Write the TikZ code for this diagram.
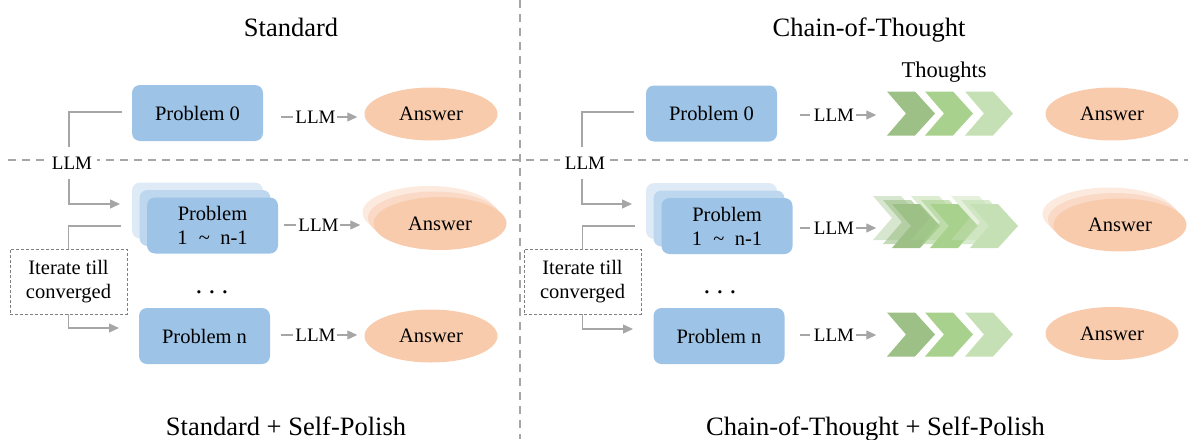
\documentclass[tikz,border=0pt]{standalone}
\usepackage{fontspec}
\setmainfont{Liberation Serif}
\usetikzlibrary{arrows.meta,shapes.geometric,calc}
\definecolor{pb}{HTML}{9DC3E6}
\definecolor{pbb}{HTML}{BDD7EE}
\definecolor{pbc}{HTML}{DEEBF7}
\definecolor{ansc}{HTML}{F8CBAD}
\definecolor{ansb}{HTML}{FADAC6}
\definecolor{ansd}{HTML}{FCEADF}
\definecolor{cga}{HTML}{9CC086}
\definecolor{cgb}{HTML}{A9D18E}
\definecolor{cgc}{HTML}{C5E0B4}
\definecolor{lnc}{HTML}{A6A6A6}
\definecolor{itc}{HTML}{7F7F7F}
\newcommand\myfs{\fontsize{20.5}{24}\selectfont}
\newcommand\mylf{\fontsize{19}{22}\selectfont}
\newcommand\myttl{\fontsize{26.5}{30}\selectfont}
\newcommand\mythf{\fontsize{22.5}{26}\selectfont}
\newcommand\mychev[3]{\fill[#3] (#1,#2-22) -- (#1+28,#2-22) -- (#1+48,#2) -- (#1+28,#2+22) -- (#1,#2+22) -- (#1+19,#2) -- cycle;}
\tikzset{
  pbox/.style={rectangle, rounded corners=8pt, minimum width=131pt, minimum height=56pt, inner sep=0pt, font=\myfs, align=center},
  ans/.style={ellipse, minimum width=133pt, minimum height=53pt, inner sep=0pt, font=\myfs},
  llm/.style={font=\mylf, inner sep=0pt},
  conn/.style={draw=lnc, line width=1.3pt},
  arr/.style={conn, -{Triangle[length=10pt,width=9pt]}},
  dsh/.style={draw=lnc, line width=1.8pt, dash pattern=on 8pt off 6pt},
  itbox/.style={draw=itc, dash pattern=on 3pt off 2pt, line width=0.9pt, fill=white, minimum width=117pt, minimum height=65pt, align=center, font=\myfs, inner sep=0pt},
  lab/.style={fill=white, minimum width=50pt, minimum height=32pt, inner sep=0pt, font=\mylf},
  ttl/.style={font=\myttl, anchor=base, inner sep=0pt},
  dots/.style={font=\fontsize{27}{30}\selectfont, anchor=base, inner sep=0pt}
}
\begin{document}
\begin{tikzpicture}[x=1pt,y=-1pt]
\useasboundingbox (0,0) rectangle (1188,439);
% separators
\draw[dsh] (520,0) -- (520,439);
\draw[dsh] (8,160) -- (1188,160);

% titles
\node[ttl] (t1) at (291,36) {Standard};
\node[ttl] (t2) at (869,36) {Chain-of-Thought};
\node[ttl] (t3) at (286,435) {Standard + Self-Polish};
\node[ttl] (t4) at (875.5,435) {Chain-of-Thought + Self-Polish};
\node[font=\mythf, anchor=base, inner sep=0pt] (th) at (944,77) {Thoughts};

% ===== LEFT =====
\node[pbox, fill=pb] (lp0) at (197.5,113) {Problem 0};
\node[pbox, fill=pbc] (lp1c) at (197.5,210.5) {};
\node[pbox, fill=pbb] (lp1b) at (205,218) {};
\node[pbox, fill=pb] (lp1) at (212.5,225.5) {Problem\\1\hspace{0.55em}\textasciitilde\hspace{0.5em}n-1};
\node[pbox, fill=pb] (lpn) at (204.5,336) {Problem n};

\node[ans, fill=ansc] (la0) at (431,114) {Answer};
\node[ans, fill=ansd] (la1c) at (429,212.5) {};
\node[ans, fill=ansb] (la1b) at (434.5,218) {};
\node[ans, fill=ansc] (la1) at (440,223.5) {Answer};
\node[ans, fill=ansc] (lan) at (431,336) {Answer};

\node[llm] (ll0) at (315.5,117) {LLM};
\node[llm] (ll1) at (318.5,225) {LLM};
\node[llm] (lln) at (315.5,335) {LLM};
\foreach \n in {ll0,ll1,lln}{
  \draw[conn] ($(\n.west)+(-14.5,0)$) -- ($(\n.west)+(-2.5,0)$);
  \draw[arr] ($(\n.east)+(1.5,0)$) -- ($(\n.east)+(21.5,0)$);
}

\coordinate (lt1) at (122,112);
\coordinate (lb1) at (69,112);
\coordinate (lar1) at (120,204);
\coordinate (lt2) at (121,226);
\coordinate (lar2) at (119,328);
\node[lab] (lab1) at (72,163) {LLM};
\draw[conn] (lt1) -- (lb1) -- (lb1 |- lab1.north);
\draw[arr] (lb1 |- lab1.south) |- (lar1);
\node[itbox] (it1) at (68.5,281.5) {Iterate till\\converged};
\draw[conn] (lt2) -| (it1.north);
\draw[arr] (it1.south) |- (lar2);
\node[dots] (ld) at (212,293.5) {.\hspace{6.2pt}.\hspace{6.2pt}.};

% ===== RIGHT =====
\node[pbox, fill=pb] (rp0) at (711.5,113.5) {Problem 0};
\node[pbox, fill=pbc] (rp1c) at (711.5,211) {};
\node[pbox, fill=pbb] (rp1b) at (719,218.5) {};
\node[pbox, fill=pb] (rp1) at (727,226) {Problem\\1\hspace{0.55em}\textasciitilde\hspace{0.5em}n-1};
\node[pbox, fill=pb] (rpn) at (719,336) {Problem n};

\node[ans, fill=ansc] (ra0) at (1112,114) {Answer};
\node[ans, fill=ansd] (ra1c) at (1109,214) {};
\node[ans, fill=ansb] (ra1b) at (1114.5,219.5) {};
\node[ans, fill=ansc] (ra1) at (1120,225) {Answer};
\node[ans, fill=ansc] (ran) at (1112,333.5) {Answer};

\node[llm] (rl0) at (834,115) {LLM};
\node[llm] (rl1) at (834,228) {LLM};
\node[llm] (rln) at (834,335) {LLM};
\foreach \n in {rl0,rl1,rln}{
  \draw[conn] ($(\n.west)+(-14,0)$) -- ($(\n.west)+(-4,0)$);
  \draw[arr] ($(\n.east)+(2,0)$) -- ($(\n.east)+(22,0)$);
}

\coordinate (rt1) at (634,112);
\coordinate (rb1) at (582,112);
\coordinate (rar1) at (632,204);
\coordinate (rt2) at (635,226);
\coordinate (rar2) at (633,329);
\node[lab] (lab2) at (585,163) {LLM};
\draw[conn] (rt1) -- (rb1) -- (rb1 |- lab2.north);
\draw[arr] (rb1 |- lab2.south) |- (rar1);
\node[itbox] (it2) at (582.5,281.5) {Iterate till\\converged};
\draw[conn] (rt2) -| (it2.north);
\draw[arr] (it2.south) |- (rar2);
\node[dots] (rd) at (720,293.5) {.\hspace{6.2pt}.\hspace{6.2pt}.};

% chevrons row 1
\mychev{887}{113.5}{cga}
\mychev{925}{113.5}{cgb}
\mychev{965}{113.5}{cgc}
% chevrons row 2 (stacked)
\mychev{873}{218}{cga,opacity=0.4}
\mychev{883}{222}{cga,opacity=0.6}
\mychev{892}{226}{cga}
\mychev{911}{218}{cgb,opacity=0.4}
\mychev{921}{222}{cgb,opacity=0.6}
\mychev{930}{226}{cgb}
\mychev{951}{218}{cgc,opacity=0.45}
\mychev{961}{222}{cgc,opacity=0.65}
\mychev{970}{226}{cgc}
% chevrons row 3
\mychev{887}{334.5}{cga}
\mychev{925}{334.5}{cgb}
\mychev{965}{334.5}{cgc}
\end{tikzpicture}
\end{document}
